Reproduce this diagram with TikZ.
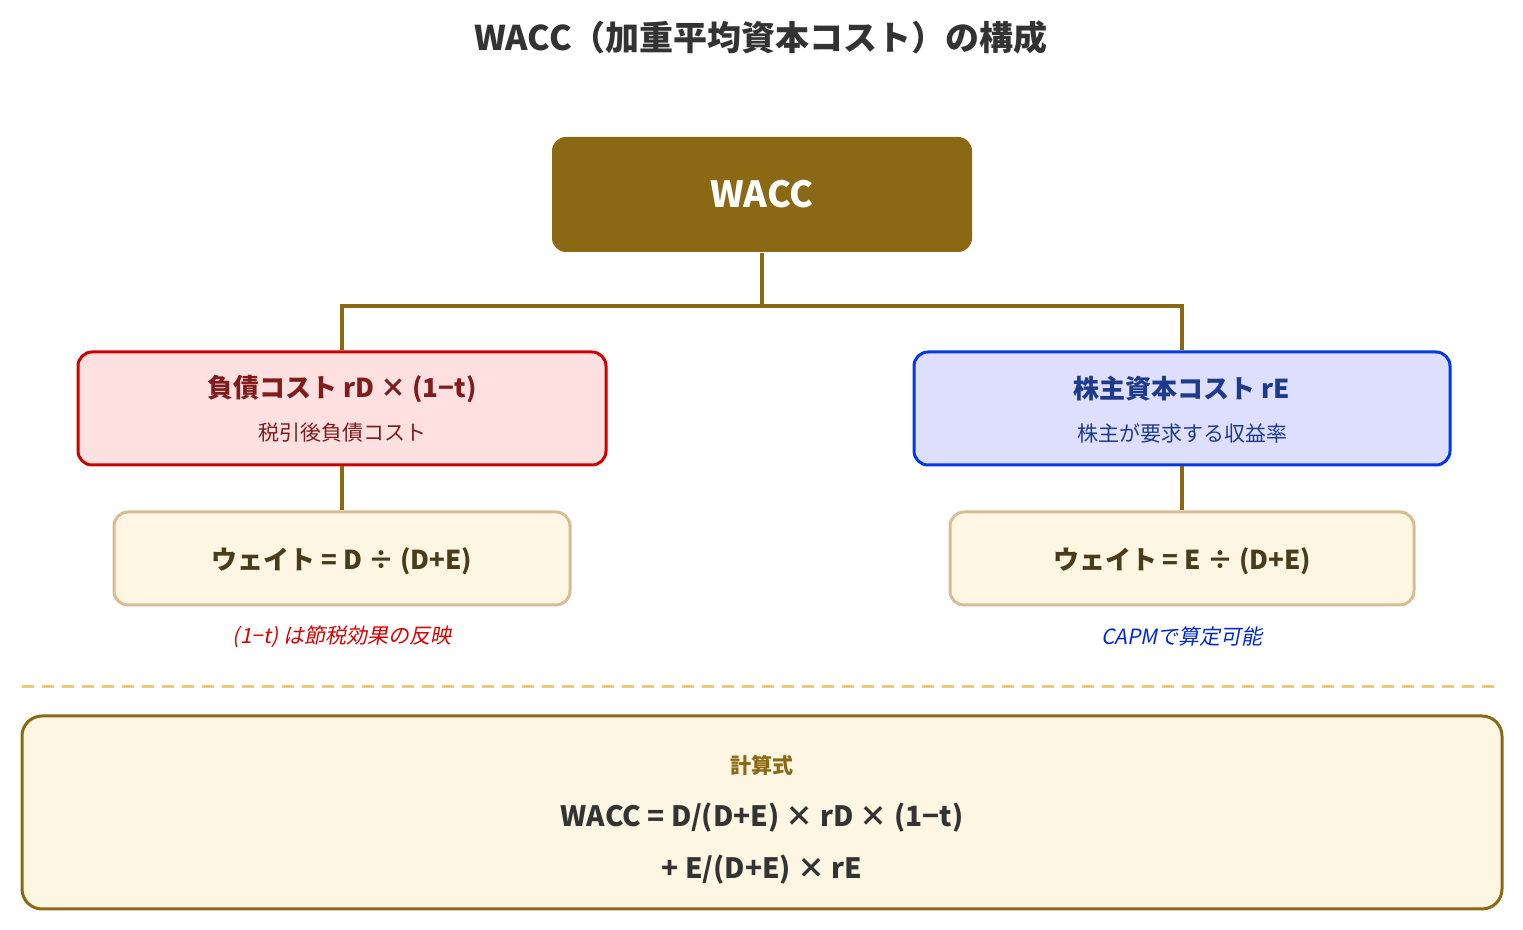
\documentclass[tikz,border=0pt]{standalone}
\usepackage{fontspec}
\setmainfont{Noto Sans CJK JP}
\newfontfamily\slantjp{Noto Sans CJK JP}[FakeSlant=0.2]
\begin{document}
\begin{tikzpicture}[x=0.5pt,y=-0.5pt,
  box/.style={draw, line width=1.5pt, rounded corners=7pt, inner sep=0pt},
  conn/.style={draw=wacc, line width=2pt},
  ttl/.style={font=\fontsize{13}{15}\selectfont\bfseries},
  sub/.style={font=\fontsize{10.5}{12}\selectfont},
  note/.style={font=\fontsize{10.5}{12}\selectfont\slantjp}]
\definecolor{wacc}{HTML}{8B6914}
\definecolor{cream}{HTML}{FDF6E3}
\definecolor{tan}{HTML}{D8BC94}
\definecolor{dred}{HTML}{7F1D1D}
\definecolor{dblue}{HTML}{1E3A8A}
\definecolor{brown}{HTML}{4A3B1A}
\useasboundingbox (0,0) rectangle (1523,930);
\node[font=\fontsize{17}{20}\selectfont\bfseries, text=black!80] (title) at (761,38) {WACC（加重平均資本コスト）の構成};
% top
\node[box, draw=none, fill=wacc, minimum width=210pt, minimum height=57.5pt] (w) at (762,194.5) {};
\node[font=\fontsize{18}{20}\selectfont\bfseries, text=white] (wt) at (762,194) {WACC};
% left
\node[box, draw=red!80!black, fill=red!12, minimum width=264pt, minimum height=56.5pt] (d) at (342,408.5) {};
\node[ttl, text=dred] (dt) at (342,389) {負債コスト rD × (1−t)};
\node[sub, text=dred] (ds) at (342,433) {税引後負債コスト};
\node[box, draw=tan, fill=cream, minimum width=228pt, minimum height=46.5pt] (dw) at (342,558.5) {};
\node[ttl, text=brown] (dwt) at (342,561) {ウェイト = D ÷ (D+E)};
\node[note, text=red!85!black] (dn) at (342,637) {(1−t) は節税効果の反映};
% right
\node[box, draw=blue!75!cyan!90!black, fill=blue!13!white, minimum width=268pt, minimum height=56.5pt] (e) at (1182,408.5) {};
\node[ttl, text=dblue] (et) at (1182,389) {株主資本コスト rE};
\node[sub, text=dblue] (es) at (1182,433) {株主が要求する収益率};
\node[box, draw=tan, fill=cream, minimum width=232pt, minimum height=46.5pt] (ew) at (1182,558.5) {};
\node[ttl, text=brown] (ewt) at (1182,561) {ウェイト = E ÷ (D+E)};
\node[note, text=blue!80!cyan!80!black] (en) at (1182,637) {CAPMで算定可能};
% connectors
\coordinate (j) at (762,306);
\draw[conn] (w.south) -- (j);
\draw[conn] (j) -| (d.north);
\draw[conn] (j) -| (e.north);
\draw[conn] (d.south) -- (dw.north);
\draw[conn] (e.south) -- (ew.north);
% dashed
\coordinate (l1) at (22,687); \coordinate (l2) at (1495,687);
\draw[draw={rgb,255:red,232;green,201;blue,122}, line width=1.5pt, dash pattern=on 6pt off 4pt] (l1) -- (l2);
% bottom
\node[box, draw=wacc, fill=cream, rounded corners=10pt, minimum width=740pt, minimum height=96.5pt] (f) at (762,812.5) {};
\node[font=\fontsize{10.5}{12}\selectfont\bfseries, text=wacc] (ft) at (762,765) {計算式};
\node[font=\fontsize{14}{16}\selectfont\bfseries, text=black!80] (f1) at (762,818) {WACC = D/(D+E) × rD × (1−t)};
\node[font=\fontsize{14}{16}\selectfont\bfseries, text=black!80] (f2) at (762,870) {+ E/(D+E) × rE};
\end{tikzpicture}
\end{document}
